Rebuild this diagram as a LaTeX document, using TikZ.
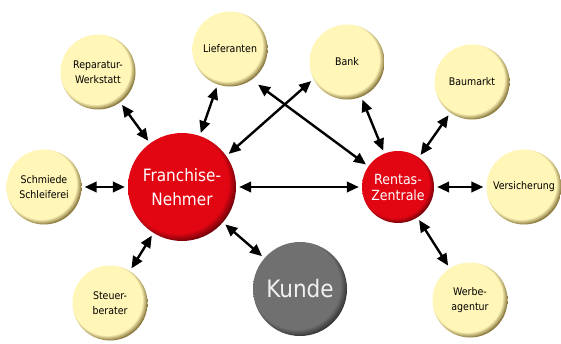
\documentclass[tikz,border=0pt]{standalone}
\usepackage{fontspec}
\setmainfont{DejaVu Sans Condensed}
\usetikzlibrary{arrows.meta}

\definecolor{ylwfill}{RGB}{255,246,184}
\definecolor{ylwrim}{RGB}{112,92,34}
\definecolor{redfill}{RGB}{226,6,19}
\definecolor{redrim}{RGB}{100,0,8}
\definecolor{grayfill}{RGB}{112,112,112}
\definecolor{grayrim}{RGB}{44,44,44}

\pgfdeclareradialshading{ballyellow}{\pgfpoint{-4bp}{4bp}}{color(0bp)=(ylwfill); color(23.5bp)=(ylwfill); color(27.5bp)=(ylwrim); color(50bp)=(ylwrim)}
\pgfdeclareradialshading{ballred}{\pgfpoint{-4bp}{4bp}}{color(0bp)=(redfill); color(23.5bp)=(redfill); color(27.5bp)=(redrim); color(50bp)=(redrim)}
\pgfdeclareradialshading{ballgray}{\pgfpoint{-4bp}{4bp}}{color(0bp)=(grayfill); color(23.5bp)=(grayfill); color(27.5bp)=(grayrim); color(50bp)=(grayrim)}

\tikzset{
  partner/.style={circle, shading=ballyellow, minimum size=75pt, inner sep=0pt,
                  align=center, text=black, font=\fontsize{10.5}{15}\selectfont},
  hub/.style={circle, shading=ballred, inner sep=0pt, align=center, text=white},
  client/.style={circle, shading=ballgray, inner sep=0pt, align=center, text=white!94!black},
  link/.style={line width=2.4pt, {Triangle[length=12pt,width=10.5pt]}-{Triangle[length=12pt,width=10.5pt]},
               shorten <=3pt, shorten >=3pt}
}

\begin{document}
\begin{tikzpicture}[x=1pt, y=-1pt]
    \useasboundingbox (0,0) rectangle (561,344);

    \node[hub, minimum size=108pt, font=\fontsize{17}{24}\selectfont] (fn) at (182,187) {Franchise-\\Nehmer};
    \node[hub, minimum size=72pt, font=\fontsize{14}{16}\selectfont] (rz) at (398,187) {Rentas-\\Zentrale};
    \node[client, minimum size=94pt, font=\fontsize{24}{28}\selectfont] (kunde) at (300,289) {Kunde};

    \node[partner] (werkstatt) at (98,72) {Reparatur-\\Werkstatt};
    \node[partner] (lieferanten) at (230,49) {Lieferanten};
    \node[partner] (bank) at (347,62) {Bank};
    \node[partner] (baumarkt) at (472,82) {Baumarkt};
    \node[partner] (schmiede) at (44,187) {Schmiede\\Schleiferei};
    \node[partner] (versicherung) at (524,187) {Versicherung};
    \node[partner] (steuer) at (110,303) {Steuer-\\berater};
    \node[partner] (werbung) at (470,300) {Werbe-\\agentur};

    \draw[link] (werkstatt) -- (fn);
    \draw[link] (lieferanten) -- (fn);
    \draw[link] (schmiede) -- (fn);
    \draw[link] (steuer) -- (fn);
    \draw[link] (fn) -- (kunde);
    \draw[link] (fn) -- (rz);
    \draw[link] (fn.35) -- (bank.207);
    \draw[link, shorten <=8pt] (lieferanten.-55) -- (rz.145);
    \draw[link] (bank) -- (rz);
    \draw[link] (baumarkt) -- (rz);
    \draw[link] (versicherung) -- (rz);
    \draw[link] (werbung) -- (rz);
\end{tikzpicture}
\end{document}
